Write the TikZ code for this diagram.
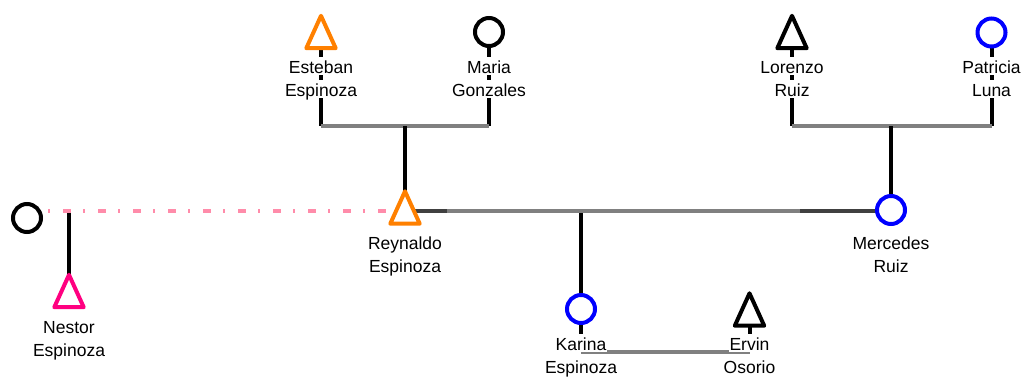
\documentclass[tikz,border=0pt]{standalone}
\usepackage{fontspec}
\setmainfont{Liberation Sans}
\definecolor{orng}{RGB}{255,128,0}
\definecolor{blu}{RGB}{0,0,255}
\definecolor{pnk}{RGB}{255,0,128}
\definecolor{pnkdash}{RGB}{255,140,170}
\definecolor{gry}{RGB}{128,128,128}
\definecolor{drk}{RGB}{64,64,64}
\pgfdeclarelayer{bg}
\pgfsetlayers{bg,main}
\begin{document}
\begin{tikzpicture}[x=1pt,y=-1pt,
  female/.style={circle, draw=#1, line width=4pt, fill=white, minimum size=28pt, inner sep=0pt},
  malebox/.style={rectangle, inner sep=0pt, minimum width=29pt, minimum height=32pt},
  tri/.style={draw=#1, line width=4pt, line join=round, fill=white},
  lbl/.style={font=\fontsize{17.5}{20}\selectfont, fill=white, inner xsep=1pt, inner ysep=0.5pt, text height=16pt, text depth=1.5pt, anchor=base},
  blk/.style={black, line width=4pt},
  gl/.style={gry, line width=4pt},
  dl/.style={drk, line width=4pt},
  pdash/.style={pnkdash, line width=4pt, dash pattern=on 2pt off 13pt on 8pt off 12pt}]
\useasboundingbox (0,0) rectangle (1022,376);

% persons
\node[malebox] (esteban) at (321,32) {};
\node[female=black] (maria) at (489,32) {};
\node[malebox] (lorenzo) at (792,32) {};
\node[female=blu] (patricia) at (991.5,32.5) {};
\node[malebox] (reynaldo) at (405,207.5) {};
\node[female=blu] (mercedes) at (891,210) {};
\node[female=black] (exwife) at (27,218) {};
\node[malebox] (nestor) at (69,291) {};
\node[female=blu] (karina) at (581,309) {};
\node[malebox] (ervin) at (749.5,309.5) {};

% junctions
\coordinate (pl1) at (321,126);
\coordinate (pr1) at (489,126);
\coordinate (pm1) at (405,126);
\coordinate (pl2) at (792,126);
\coordinate (pr2) at (991.5,126);
\coordinate (pm2) at (891,126);
\coordinate (mA) at (447,211);
\coordinate (mB) at (800,211);
\coordinate (cK) at (581,211);
\coordinate (dS) at (48,211);
\coordinate (nV) at (69,211);
\coordinate (kB) at (581,352);
\coordinate (eB) at (749.5,352);

\begin{pgfonlayer}{bg}
\draw[blk] (esteban.center) -- (pl1);
\draw[blk] (maria.center) -- (pr1);
\draw[gl] (pl1) -- (pr1);
\draw[blk] (pm1) -- (reynaldo.center);
\draw[blk] (lorenzo.center) -- (pl2);
\draw[blk] (patricia.center) -- (pr2);
\draw[gl] (pl2) -- (pr2);
\draw[blk] (pm2) -- (mercedes.center);
\draw[blk] (cK) -- (karina.center) -- (kB);
\draw[blk] (ervin.center) -- (eB);
\draw[gl] (kB) -- (eB);
\draw[blk] (nV) -- (nestor.center);
\draw[pdash] (dS) -- (reynaldo.center |- dS);
\draw[dl] (reynaldo.center |- mA) -- (mA);
\draw[gl] (mA) -- (mB);
\draw[dl] (mB) -- (mercedes.center |- mB);
\end{pgfonlayer}

% male shapes
\draw[tri=orng] (esteban.north) -- (esteban.south east) -- (esteban.south west) -- cycle;
\draw[tri=black] (lorenzo.north) -- (lorenzo.south east) -- (lorenzo.south west) -- cycle;
\draw[tri=orng] (reynaldo.north) -- (reynaldo.south east) -- (reynaldo.south west) -- cycle;
\draw[tri=pnk] (nestor.north) -- (nestor.south east) -- (nestor.south west) -- cycle;
\draw[tri=black] (ervin.north) -- (ervin.south east) -- (ervin.south west) -- cycle;

% labels
\node[lbl] (esteban1) at (321,73) {Esteban};
\node[lbl] (esteban2) at (321,96) {Espinoza};
\node[lbl] (maria1) at (489,73) {Maria};
\node[lbl] (maria2) at (489,96) {Gonzales};
\node[lbl] (lorenzo1) at (792,73) {Lorenzo};
\node[lbl] (lorenzo2) at (792,96) {Ruiz};
\node[lbl] (patricia1) at (991.5,73) {Patricia};
\node[lbl] (patricia2) at (991.5,96) {Luna};
\node[lbl] (reynaldo1) at (405,249) {Reynaldo};
\node[lbl] (reynaldo2) at (405,272) {Espinoza};
\node[lbl] (mercedes1) at (891,249) {Mercedes};
\node[lbl] (mercedes2) at (891,272) {Ruiz};
\node[lbl] (nestor1) at (69,333) {Nestor};
\node[lbl] (nestor2) at (69,356) {Espinoza};
\node[lbl] (karina1) at (581,350) {Karina};
\node[lbl] (karina2) at (581,373) {Espinoza};
\node[lbl] (ervin1) at (749.5,350) {Ervin};
\node[lbl] (ervin2) at (749.5,373) {Osorio};
\end{tikzpicture}
\end{document}
